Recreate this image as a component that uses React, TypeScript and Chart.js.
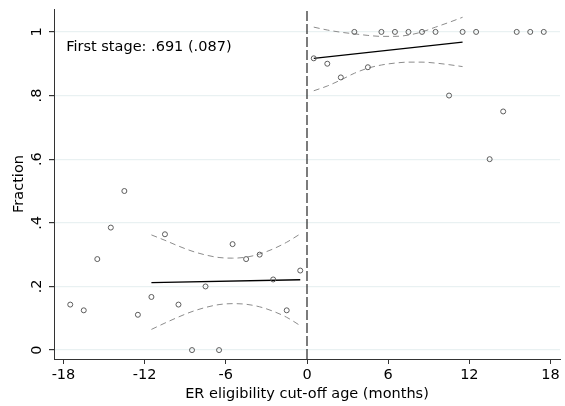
import React, { useEffect, useRef } from "react";
import { Chart, registerables } from "chart.js";

Chart.register(...registerables);

// Months relative to the ER eligibility cut-off (bin midpoints)
const leftMonths = [-17.5, -16.5, -15.5, -14.5, -13.5, -12.5, -11.5, -10.5, -9.5, -8.5, -7.5, -6.5, -5.5, -4.5, -3.5, -2.5, -1.5, -0.5];
const leftFraction = [0.143, 0.125, 0.286, 0.385, 0.5, 0.111, 0.167, 0.364, 0.143, 0, 0.2, 0, 0.333, 0.286, 0.3, 0.222, 0.125, 0.25];

const rightMonths = [0.5, 1.5, 2.5, 3.5, 4.5, 5.5, 6.5, 7.5, 8.5, 9.5, 10.5, 11.5, 12.5, 13.5, 14.5, 15.5, 16.5, 17.5];
const rightFraction = [0.917, 0.9, 0.857, 1, 0.889, 1, 1, 1, 1, 1, 0.8, 1, 1, 0.6, 0.75, 1, 1, 1];

// Fitted lines and 95% bands within the estimation window
const leftFitMonths = [-11.5, -0.5];
const leftFit = [0.212, 0.221];
const rightFitMonths = [0.5, 11.5];
const rightFit = [0.917, 0.968];

const leftBandMonths = [-11.5, -10.5, -9.5, -8.5, -7.5, -6.5, -5.5, -4.5, -3.5, -2.5, -1.5, -0.5];
const leftUpper = [0.362, 0.345, 0.327, 0.311, 0.299, 0.291, 0.289, 0.292, 0.302, 0.318, 0.339, 0.365];
const leftLower = [0.065, 0.085, 0.104, 0.121, 0.134, 0.143, 0.146, 0.144, 0.136, 0.122, 0.103, 0.077];

const rightBandMonths = [0.5, 1.5, 2.5, 3.5, 4.5, 5.5, 6.5, 7.5, 8.5, 9.5, 10.5, 11.5];
const rightUpper = [1.015, 1.006, 0.999, 0.994, 0.989, 0.986, 0.986, 0.99, 1.0, 1.015, 1.03, 1.046];
const rightLower = [0.815, 0.83, 0.849, 0.87, 0.886, 0.896, 0.902, 0.905, 0.905, 0.902, 0.897, 0.891];

const cutoff = 0;

const xTicks = [-18, -12, -6, 0, 6, 12, 18];
const yTicks = [0, 0.2, 0.4, 0.6, 0.8, 1];
const yTickLabels = ["0", ".2", ".4", ".6", ".8", "1"];

const X_MIN = -18.7;
const X_MAX = 18.7;
const Y_MIN = -0.028;
const Y_MAX = 1.072;

const FONT = '"DejaVu Sans", sans-serif';
const FONT_SIZE = 14.5;
const annotation = "First stage: .691 (.087)";

const pts = (xs: number[], ys: number[]) => xs.map((x, i) => ({ x, y: ys[i] }));

const overlayText = {
  id: "overlayText",
  afterDraw(chart: any) {
    const { ctx } = chart;
    const ys = chart.scales.y;
    const xs = chart.scales.x;
    ctx.save();
    ctx.fillStyle = "#000";
    ctx.font = `${FONT_SIZE}px ${FONT}`;
    // rotated y tick labels
    ctx.textAlign = "center";
    ctx.textBaseline = "alphabetic";
    ys.ticks.forEach((t: any, i: number) => {
      const py = ys.getPixelForValue(t.value);
      ctx.save();
      ctx.translate(ys.right - 13, py);
      ctx.rotate(-Math.PI / 2);
      ctx.fillText(yTickLabels[i], 0, 0);
      ctx.restore();
    });
    // first stage estimate
    ctx.textAlign = "left";
    ctx.fillText(annotation, xs.getPixelForValue(-17.8), ys.getPixelForValue(0.94));
    ctx.restore();
  },
};

export default function App() {
  const ref = useRef<HTMLCanvasElement>(null);

  useEffect(() => {
    if (!ref.current) return;
    const markerStyle = {
      showLine: false,
      pointRadius: 2.5,
      pointBorderWidth: 1,
      pointBorderColor: "#5c5c5c",
      pointBackgroundColor: "rgba(0,0,0,0)",
    };
    const bandStyle = {
      showLine: true,
      pointRadius: 0,
      borderColor: "#8c8c8c",
      borderWidth: 1,
      borderDash: [6, 4],
      tension: 0.4,
      cubicInterpolationMode: "monotone" as const,
      fill: false,
    };
    const fitStyle = {
      showLine: true,
      pointRadius: 0,
      borderColor: "#000",
      borderWidth: 1.3,
      fill: false,
    };
    const chart = new Chart(ref.current, {
      type: "scatter",
      data: {
        datasets: [
          { data: pts(leftMonths, leftFraction), ...markerStyle },
          { data: pts(rightMonths, rightFraction), ...markerStyle },
          { data: pts(leftFitMonths, leftFit), ...fitStyle },
          { data: pts(rightFitMonths, rightFit), ...fitStyle },
          { data: pts(leftBandMonths, leftUpper), ...bandStyle },
          { data: pts(leftBandMonths, leftLower), ...bandStyle },
          { data: pts(rightBandMonths, rightUpper), ...bandStyle },
          { data: pts(rightBandMonths, rightLower), ...bandStyle },
          {
            data: [
              { x: cutoff, y: Y_MIN },
              { x: cutoff, y: Y_MAX },
            ],
            showLine: true,
            pointRadius: 0,
            borderColor: "#111",
            borderWidth: 1.1,
            borderDash: [10, 3],
          },
        ],
      },
      options: {
        animation: false,
        responsive: false,
        maintainAspectRatio: false,
        layout: { padding: { top: 9, right: 1, left: 0, bottom: 0 } },
        plugins: { legend: { display: false }, tooltip: { enabled: false } },
        scales: {
          x: {
            type: "linear",
            min: X_MIN,
            max: X_MAX,
            afterBuildTicks: (s: any) => {
              s.ticks = xTicks.map((v) => ({ value: v }));
            },
            afterFit: (s: any) => {
              s.height = 47;
            },
            border: { color: "#333", width: 1 },
            grid: { drawOnChartArea: false, tickLength: 5, tickColor: "#333" },
            ticks: {
              color: "#000",
              font: { family: FONT, size: FONT_SIZE },
              padding: 3,
              maxRotation: 0,
              callback: (v: any) => String(v),
            },
            title: {
              display: true,
              text: "ER eligibility cut-off age (months)",
              color: "#000",
              font: { family: FONT, size: FONT_SIZE },
              padding: { top: 0, bottom: 3 },
            },
          },
          y: {
            type: "linear",
            min: Y_MIN,
            max: Y_MAX,
            afterBuildTicks: (s: any) => {
              s.ticks = yTicks.map((v) => ({ value: v }));
            },
            afterFit: (s: any) => {
              s.width = 54;
            },
            border: { color: "#333", width: 1 },
            grid: { color: "#e9f1f2", lineWidth: 1.2, tickLength: 5, tickColor: "#333" },
            ticks: { display: false },
            title: {
              display: true,
              text: "Fraction",
              color: "#000",
              font: { family: FONT, size: FONT_SIZE },
              padding: { top: 11, bottom: 0 },
            },
          },
        },
      },
      plugins: [overlayText],
    });
    return () => chart.destroy();
  }, []);

  return (
    <div style={{ position: "fixed", left: 0, top: 0, width: 565, height: 406, background: "#fff" }}>
      <canvas ref={ref} width={565} height={406} style={{ width: 565, height: 406 }} />
    </div>
  );
}
